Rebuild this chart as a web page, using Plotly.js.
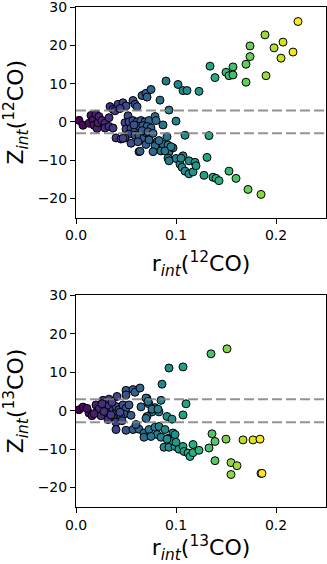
<!DOCTYPE html>
<html>
<head>
<meta charset="utf-8">
<script src="https://cdn.plot.ly/plotly-3.0.1.min.js"></script>
<style>
  html, body { margin: 0; padding: 0; background: #fff; }
  #chart { width: 327px; height: 564px; }
</style>
</head>
<body>
<div id="chart"></div>
<script>
// 12CO: integrated ratio r_int vs significance Z_int
const r12 = [
    0.003, 0.007, 0.013, 0.015, 0.017, 0.018, 0.020, 0.021, 0.022, 0.023,
    0.026, 0.029, 0.029, 0.033, 0.033, 0.037, 0.034, 0.037, 0.042, 0.047,
    0.050, 0.057, 0.059, 0.061, 0.066, 0.070, 0.075, 0.084, 0.052, 0.049,
    0.053, 0.057, 0.061, 0.065, 0.069, 0.073, 0.079, 0.080, 0.050, 0.055,
    0.059, 0.063, 0.067, 0.071, 0.075, 0.053, 0.059, 0.063, 0.068, 0.070,
    0.063, 0.070, 0.040, 0.045, 0.049, 0.073, 0.093, 0.100, 0.109, 0.091,
    0.081, 0.079, 0.087, 0.092, 0.085, 0.093, 0.077, 0.097, 0.089, 0.100,
    0.104, 0.107, 0.113, 0.105, 0.106, 0.109, 0.113, 0.117, 0.119, 0.120,
    0.128, 0.131, 0.137, 0.140, 0.143, 0.153, 0.160, 0.172, 0.185, 0.133,
    0.087, 0.090, 0.102, 0.107, 0.111, 0.123, 0.071, 0.083, 0.095, 0.092,
    0.093, 0.134, 0.139, 0.150, 0.157, 0.153, 0.157, 0.170, 0.170, 0.174,
    0.174, 0.189, 0.190, 0.198, 0.205, 0.207, 0.217, 0.222,
    0.055, 0.064, 0.047, 0.039, 0.058, 0.066, 0.072, 0.077, 0.044, 0.062
];
const z12 = [
    0.4, -0.9, -0.35, 1.7, 0.5, -0.9, 2.0, -1.7, -0.2, 1.4,
    0.35, -0.35, -1.6, -1.2, 1.1, -1.6, 4.0, 3.3, 4.6, 5.0,
    4.2, 5.6, 4.6, 4.0, 6.9, 7.5, 8.5, 5.7, 1.6, -0.2,
    0.0, 0.35, 0.0, 0.35, 0.0, 0.35, 1.4, 0.35, -1.9, -1.7,
    -1.9, -1.2, -1.0, -1.2, -1.6, -3.2, -3.5, -3.6, -4.2, -5.9,
    -7.8, -2.8, -4.2, -4.5, -4.2, -4.7, 3.1, 0.2, -3.5, -3.9,
    -5.2, -6.3, -5.9, -6.1, -7.6, -7.9, -7.8, -6.8, -7.6, -9.6,
    -11.1, -8.9, -10.2, -9.5, -11.9, -12.9, -13.6, -13.1, -10.6, -11.5,
    -14.0, -9.3, -14.5, -14.8, -15.4, -12.9, -14.8, -17.7, -19.0, -3.6,
    -0.8, 10.7, 9.8, 8.2, 8.2, 8.0, 6.5, -4.9, -6.5, -9.5,
    -10.2, 14.6, 11.6, 13.0, 14.4, 12.1, 12.3, 10.4, 15.1, 17.1,
    19.9, 22.8, 12.1, 19.4, 16.7, 20.9, 18.3, 26.3,
    -5.6, -7.7, -4.3, 2.9, -0.8, -2.3, -2.6, -3.0, 3.5, -5.2
];

// 13CO
const r13 = [
    0.003, 0.007, 0.013, 0.016, 0.020, 0.021, 0.023, 0.025, 0.027, 0.031,
    0.033, 0.032, 0.037, 0.040, 0.039, 0.043, 0.047, 0.050, 0.053, 0.048,
    0.045, 0.037, 0.040, 0.032, 0.033, 0.041, 0.050, 0.057, 0.050, 0.059,
    0.071, 0.073, 0.079, 0.083, 0.076, 0.071, 0.086, 0.110, 0.107, 0.040,
    0.050, 0.057, 0.063, 0.068, 0.073, 0.079, 0.083, 0.081, 0.089, 0.068,
    0.075, 0.085, 0.097, 0.092, 0.088, 0.093, 0.099, 0.103, 0.107, 0.108,
    0.112, 0.114, 0.117, 0.117, 0.123, 0.097, 0.100, 0.091, 0.099, 0.151,
    0.135, 0.107, 0.093, 0.064, 0.070, 0.072, 0.085, 0.065, 0.076, 0.082,
    0.091, 0.096, 0.070, 0.136, 0.139, 0.150, 0.167, 0.177, 0.184, 0.133,
    0.139, 0.155, 0.161, 0.155, 0.185, 0.186,
    0.018, 0.028, 0.035, 0.044, 0.026, 0.036, 0.046, 0.055, 0.060, 0.011
];
const z13 = [
    0.26, 0.95, -0.6, -1.3, 1.5, -0.25, 0.43, -1.3, 2.7, 0.43,
    1.3, -0.6, 0.1, 1.1, -0.8, 0.26, 1.5, 0.6, 1.5, -0.9,
    -1.6, -1.8, -3.0, -2.3, 3.0, 3.7, 5.3, 5.5, 4.1, 4.8,
    3.2, 1.8, 0.8, -0.3, -0.3, -1.5, 6.9, 1.8, -1.1, -4.9,
    -5.1, -4.9, -4.8, -5.8, -4.9, -4.3, -4.1, -6.2, -4.9, -6.9,
    -6.7, -6.9, -5.8, -7.2, -9.5, -9.5, -9.3, -10.0, -9.3, -10.6,
    -11.0, -11.9, -10.9, -8.8, -10.3, -7.9, -8.2, -7.4, -6.2, 16.1,
    14.8, 11.4, 11.1, 5.9, 3.3, 2.4, 2.7, 1.0, 0.4, 0.4,
    -1.5, -2.2, -2.0, -6.0, -8.0, -7.4, -7.6, -7.6, -7.4, -9.7,
    -13.0, -13.5, -14.3, -16.6, -16.3, -16.3,
    -0.8, -0.2, -1.1, -0.4, 1.8, 2.2, -2.6, -1.2, -3.6, 0.6
];

const THRESH = 3;
const XTICKS = [0, 0.1, 0.2];
const YTICKS = [-20, -10, 0, 10, 20, 30];

const FONT = 'DejaVu Sans, sans-serif';

function scatterTrace(xs, ys, xa, ya) {
    return {
        x: xs,
        y: ys,
        xaxis: xa,
        yaxis: ya,
        type: 'scatter',
        mode: 'markers',
        marker: {
            size: 8,
            color: xs,
            colorscale: 'Viridis',
            cmin: Math.min(...xs),
            cmax: Math.max(...xs),
            line: { color: '#000', width: 1 },
        },
        showlegend: false,
        hoverinfo: 'x+y',
    };
}

function xAxis(domain, anchor, label) {
    return {
        domain: domain,
        anchor: anchor,
        range: [0, 0.25],
        tickvals: XTICKS,
        ticktext: XTICKS.map(v => v.toFixed(1)),
        ticks: 'outside',
        ticklen: 5,
        tickwidth: 1,
        tickcolor: '#000',
        showline: true,
        mirror: true,
        linecolor: '#000',
        linewidth: 1,
        showgrid: false,
        zeroline: false,
        ticklabeloverflow: 'allow',
        tickfont: { size: 14, color: '#000' },
        title: { text: label, font: { size: 22, color: '#000' }, standoff: 13 },
    };
}

function yAxis(domain, anchor, label) {
    return {
        domain: domain,
        anchor: anchor,
        range: [-25.05, 30.1],
        tickvals: YTICKS,
        ticks: 'outside',
        ticklen: 5,
        tickwidth: 1,
        tickcolor: '#000',
        showline: true,
        mirror: true,
        linecolor: '#000',
        linewidth: 1,
        showgrid: false,
        zeroline: false,
        ticklabeloverflow: 'allow',
        tickfont: { size: 14, color: '#000' },
        title: { text: label, font: { size: 22, color: '#000' }, standoff: 16 },
    };
}

function threshLine(xref, yref, yv) {
    return {
        type: 'line',
        xref: xref + ' domain',
        yref: yref,
        x0: 0, x1: 1,
        y0: yv, y1: yv,
        line: { color: 'rgba(128,128,128,0.85)', width: 2, dash: '10px,4px' },
        layer: 'above',
    };
}

const traces = [
    scatterTrace(r12, z12, 'x', 'y'),
    scatterTrace(r13, z13, 'x2', 'y2'),
];

const xDom = [76 / 327, 326 / 327];

const layout = {
    width: 327,
    height: 564,
    margin: { l: 0, r: 0, t: 0, b: 0 },
    paper_bgcolor: '#fff',
    plot_bgcolor: '#fff',
    font: { family: FONT, color: '#000' },
    xaxis: xAxis(xDom, 'y', 'r<sub><i>int</i></sub>(<sup>12</sup>CO)'),
    yaxis: yAxis([1 - 217.5 / 564, 1 - 7 / 564], 'x', 'Z<sub><i>int</i></sub>(<sup>12</sup>CO)'),
    xaxis2: xAxis(xDom, 'y2', 'r<sub><i>int</i></sub>(<sup>13</sup>CO)'),
    yaxis2: yAxis([1 - 507 / 564, 1 - 295 / 564], 'x2', 'Z<sub><i>int</i></sub>(<sup>13</sup>CO)'),
    shapes: [
        threshLine('x', 'y', THRESH),
        threshLine('x', 'y', -THRESH),
        threshLine('x2', 'y2', THRESH),
        threshLine('x2', 'y2', -THRESH),
    ],
    hovermode: 'closest',
};

Plotly.newPlot('chart', traces, layout, { displayModeBar: false, staticPlot: true });
</script>
</body>
</html>
